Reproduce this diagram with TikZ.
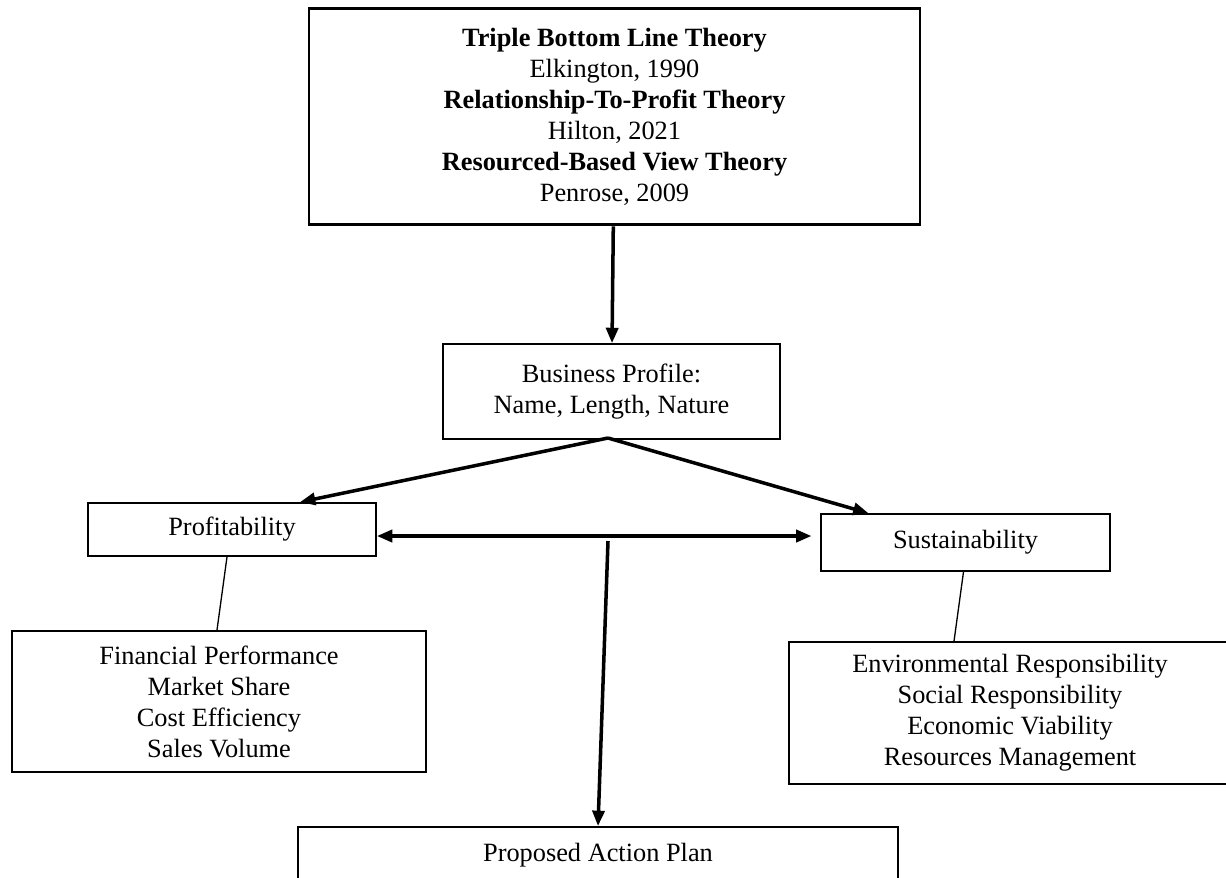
\documentclass[tikz,border=0pt]{standalone}
\usepackage{fontspec}
\setmainfont{Liberation Serif}
\usetikzlibrary{arrows.meta,calc,positioning}

\tikzset{
	box/.style={draw, line width=0.8pt, align=center, inner sep=0pt,
		font=\fontsize{12}{14.1}\selectfont},
	arr/.style={line width=1.6pt, -{Triangle[length=7pt,width=5.5pt]}},
	dblarr/.style={line width=1.6pt, {Triangle[length=7pt,width=5.5pt]}-{Triangle[length=7pt,width=5.5pt]}},
	link/.style={line width=0.6pt}
}

\begin{document}
\begin{tikzpicture}[x=0.016cm,y=-0.016cm]
	\useasboundingbox (0,0) rectangle (1226,877);
	
	% Theories at the top
	\node[box, line width=1.3pt, minimum width=9.78cm, minimum height=3.47cm] (theory) at (614.5,116.5)
	{\textbf{Triple Bottom Line Theory}\\ Elkington, 1990\\ \textbf{Relationship-To-Profit Theory}\\ Hilton, 2021\\ \textbf{Resourced-Based View Theory}\\ Penrose, 2009};
	\node[box, minimum width=5.39cm, minimum height=1.52cm] (profile) at (611.5,391.5)
	{Business Profile:\\ Name, Length, Nature};
	
	% The two sides
	\node[box, minimum width=4.61cm, minimum height=0.85cm] (profit) at (232,529.5) {Profitability};
	\node[box, minimum width=4.62cm, minimum height=0.91cm] (sustain) at (965.5,542.5) {Sustainability};
	\node[box, minimum width=6.62cm, minimum height=2.26cm] (finperf) at (219,701.5)
	{Financial Performance\\ Market Share\\ Cost Efficiency\\ Sales Volume};
	\node[box, minimum width=7.07cm, minimum height=2.27cm] (envresp) at (1010,713)
	{Environmental Responsibility\\ Social Responsibility\\ Economic Viability\\ Resources Management};
	
	% Action plan, cut at the bottom
	\node[box, minimum width=9.6cm, minimum height=0.9cm] (plan) at (598,855) {Proposed Action Plan};
	
	% Connectors
	\coordinate (fork) at (608,438);
	\coordinate (mid) at (608,536);
	\coordinate (hub) at (608,541);
	\draw[arr] (theory) -- (profile);
	\draw[arr] (fork) -- ($(profit.north)+(68,0)$);
	\draw[arr] (fork) -- ($(sustain.north)+(-97,0)$);
	\draw[dblarr, shorten >=4pt] (profit.east |- mid) -- (sustain.west |- mid);
	\draw[arr] (hub) -- (plan.north);
	\draw[link] ($(profit.south)+(-5,0)$) -- ($(finperf.north)+(-2,0)$);
	\draw[link] ($(sustain.south)+(-2,0)$) -- ($(envresp.north)+(-56,0)$);
\end{tikzpicture}
\end{document}
